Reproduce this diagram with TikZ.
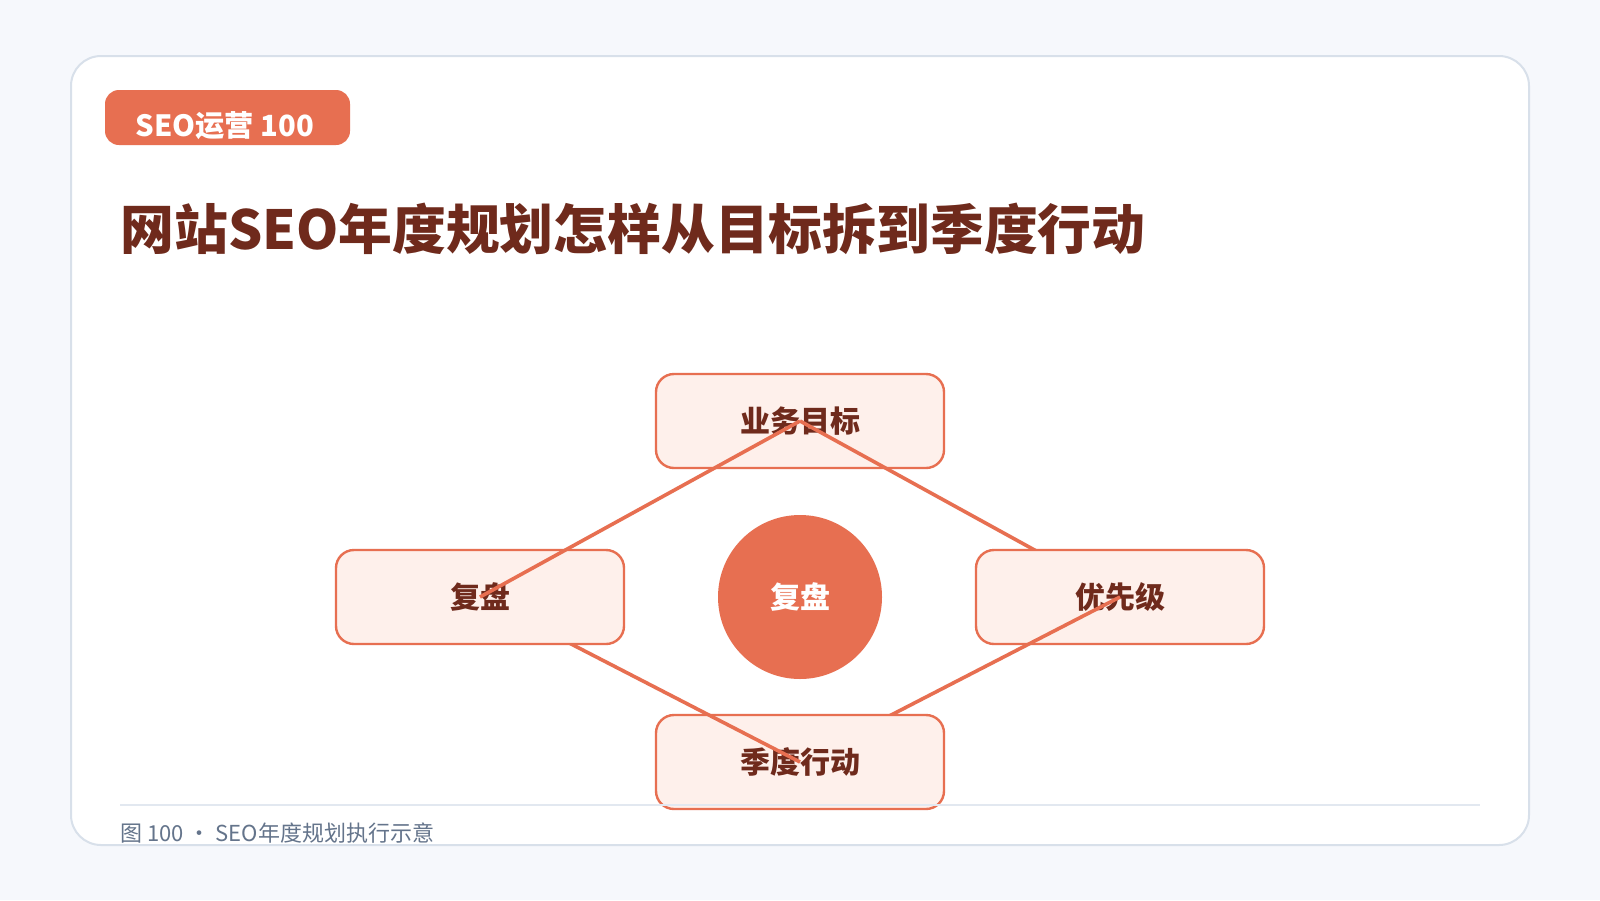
\documentclass[tikz,border=0pt]{standalone}
\usepackage{fontspec}
\setmainfont{Noto Sans CJK SC}
\definecolor{accent}{RGB}{231,111,81}
\definecolor{boxfill}{RGB}{254,240,235}
\definecolor{darkbrown}{RGB}{111,42,28}
\definecolor{pagebg}{RGB}{246,248,252}
\definecolor{cardline}{RGB}{216,224,234}
\definecolor{sepline}{RGB}{226,232,240}
\definecolor{capgray}{RGB}{100,116,139}
\begin{document}
\begin{tikzpicture}[x=0.5pt,y=-0.5pt,
  stage/.style={draw=accent,fill=boxfill,line width=1.2pt,rounded corners=9pt,minimum width=144pt,minimum height=47pt,text=darkbrown,font=\bfseries\fontsize{15}{18}\selectfont},
  link/.style={draw=accent,line width=1.8pt}]
\fill[pagebg](0,0)rectangle(1600,900);
\useasboundingbox(0,0)rectangle(1600,900);
\draw[cardline,fill=white,line width=1pt,rounded corners=15pt](71,56)rectangle(1529,845);
\node[fill=accent,rounded corners=7pt,minimum width=122.5pt,minimum height=27.5pt](tag)at(227.5,117.5){};
\node[text=white,font=\bfseries\fontsize{14.6}{17}\selectfont](tagtext)at(225,126){SEO运营 100};
\node[anchor=west,inner sep=0pt,text=darkbrown,font=\bfseries\fontsize{26.9}{32}\selectfont](title)at(120,229){网站SEO年度规划怎样从目标拆到季度行动};
% center
\node[circle,fill=accent,minimum size=82pt,inner sep=0pt,text=white,font=\bfseries\fontsize{15}{18}\selectfont](hub)at(800,597){复盘};
% cycle, each link after its source box
\node[stage](goal)at(800,421){业务目标};
\draw[link](goal.center)--(800+320,597);
\node[stage](prio)at(1120,597){优先级};
\draw[link](prio.center)--(800,762);
\node[stage](act)at(800,762){季度行动};
\draw[link](act.center)--(480,597);
\node[stage](review)at(480,597){复盘};
\draw[link](review.center)--(goal.center);
\draw[sepline,line width=1pt](120,805)--(1480,805);
\node[anchor=west,inner sep=0pt,text=capgray,font=\fontsize{11}{13}\selectfont](cap)at(120,833){图 100 · SEO年度规划执行示意};
\end{tikzpicture}
\end{document}
